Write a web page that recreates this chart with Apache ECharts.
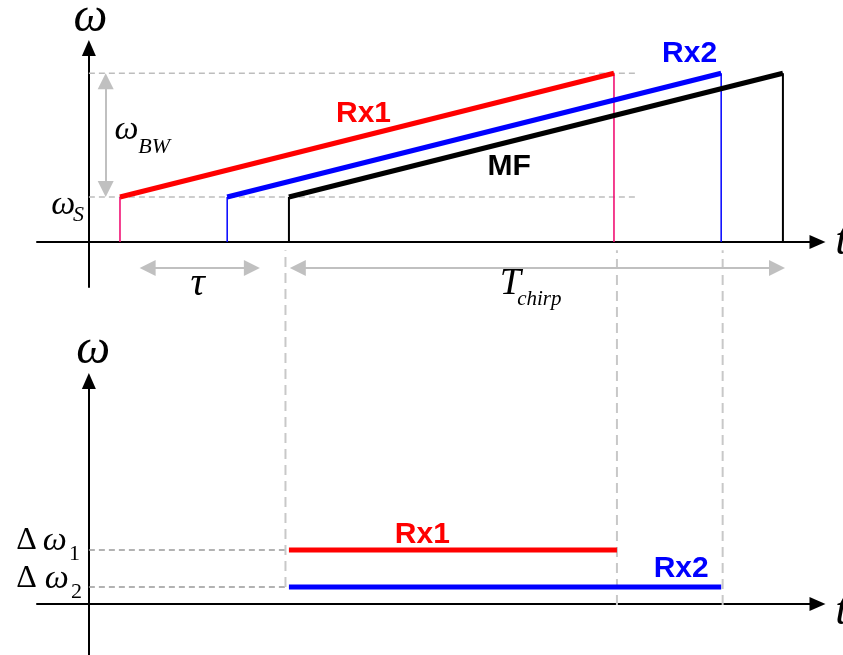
<!DOCTYPE html>
<html><head><meta charset="utf-8">
<script src="https://cdn.jsdelivr.net/npm/echarts@6/dist/echarts.min.js"></script>
<style>html,body{margin:0;padding:0;background:#fff}#c{width:843px;height:655px}</style>
</head><body><div id="c"></div>
<script>
// ---- data (time t and frequency ω in arbitrary units) ----
const chirpNames = ['Rx1', 'Rx2', 'MF'];
const chirpStart = [0.63, 2.8, 4.05];
const chirpDuration = [10.0, 10.0, 10.0];
const omegaS = 2.0;
const omegaTop = 7.5;           // ωS + ωBW
const guideEnd = 11.1;
const deltaNames = ['Rx1', 'Rx2'];
const deltaOmega = [2.35, 0.74];
const deltaEnd = [10.69, 12.8];
const connectorT = [3.98, 10.69, 12.83];
const connectorTop = 15.39;
const connectorBottom = [0.74, -0.05, -0.05];
// dimension arrows (line ends at arrowhead centres)
const bwArrow = [0.34, 7.14, 2.36];     // t, ω from, ω to
const tauArrow = [1.19, 3.30, -1.16];   // t from, t to, ω
const chirpArrow = [4.23, 13.93, -1.16];

// ---- styles ----
const serif = '"Liberation Serif","Times New Roman",serif';
const sans = '"Liberation Sans",Arial,sans-serif';
const C = {Rx1: '#ff0000', Rx2: '#0000ff', MF: '#000000'};
const V = {Rx1: '#f0006a', Rx2: '#0000ff', MF: '#000000'};
const VW = {Rx1: 1.5, Rx2: 1.5, MF: 2};
function m(size, italic, extra) {
  return Object.assign({fontFamily: serif, fontStyle: italic ? 'italic' : 'normal', fontSize: size,
    color: '#000', align: 'center', verticalAlign: 'middle'}, extra || {});
}
function b(color) {
  return {fontFamily: sans, fontWeight: 'bold', fontSize: 30, color: color, align: 'center', verticalAlign: 'middle'};
}
const STY = {
  big: m(48, true), axisT: m(46, true, {align: 'left'}), mid: m(34, true), sub: m(22, true),
  midD: m(34, true), delta: m(32, false), num: m(22, false), tau: m(40, true), T: m(38, true),
  chirpSub: m(21, true), Rx1: b(C.Rx1), Rx2: b(C.Rx2), MF: b(C.MF)
};
const annTop = [
  [0.04, 9.9, 'ω', 'big'], [15.12, 0.0, 't', 'axisT'],
  [0.77, 4.95, 'ω', 'mid'], [1.33, 4.2, 'BW', 'sub'],
  [-0.51, 1.64, 'ω', 'mid'], [-0.2, 1.16, 'S', 'sub'],
  [2.21, -1.91, 'τ', 'tau'], [8.54, -1.91, 'T', 'T'], [9.13, -2.58, 'chirp', 'chirpSub'],
  [5.57, 5.69, 'Rx1', 'Rx1'], [12.17, 8.36, 'Rx2', 'Rx2'], [8.52, 3.33, 'MF', 'MF']
];
const annBottom = [
  [0.1, 11.0, 'ω', 'big'], [15.12, -0.35, 't', 'axisT'],
  [-1.25, 2.74, 'Δ', 'delta'], [-0.68, 2.72, 'ω', 'midD'], [-0.28, 2.13, '1', 'num'],
  [-1.25, 1.1, 'Δ', 'delta'], [-0.64, 1.08, 'ω', 'midD'], [-0.24, 0.48, '2', 'num'],
  [6.76, 3.0, 'Rx1', 'Rx1'], [12.0, 1.52, 'Rx2', 'Rx2']
];

function line(gi, data, color, width, type, z) {
  return {type: 'line', xAxisIndex: gi, yAxisIndex: gi, data: data, symbol: 'none', clip: false,
    silent: true, animation: false, z: z || 2, lineStyle: {color: color, width: width, type: type || 'solid'}};
}
function labels(gi, items) {
  return {type: 'scatter', xAxisIndex: gi, yAxisIndex: gi, symbolSize: 1, clip: false, silent: true,
    animation: false, z: 10, itemStyle: {color: 'rgba(0,0,0,0)', opacity: 1},
    data: items.map(a => ({value: [a[0], a[1]],
      label: Object.assign({show: true, position: [0, 0], formatter: a[2]}, STY[a[3]])}))};
}

const series = [];
series.push(line(0, [[0, omegaTop], [guideEnd, omegaTop]], '#bdbdbd', 1.5, [6, 4], 1));
series.push(line(0, [[0, omegaS], [guideEnd, omegaS]], '#bdbdbd', 1.5, [6, 4], 1));
chirpNames.forEach((n, i) => {
  const s = chirpStart[i], e = s + chirpDuration[i];
  series.push(line(0, [[s, 0], [s, omegaS]], V[n], VW[n]));
  series.push(line(0, [[e, 0], [e, omegaTop]], V[n], VW[n]));
  series.push(line(0, [[s, omegaS], [e, omegaTop]], C[n], 5, 'solid', 3));
});
deltaNames.forEach((n, i) => {
  series.push(line(1, [[0, deltaOmega[i]], [chirpStart[2], deltaOmega[i]]], '#999999', 1.5, [6, 4], 1));
  series.push(line(1, [[chirpStart[2], deltaOmega[i]], [deltaEnd[i], deltaOmega[i]]], C[n], 5, 'solid', 3));
});
connectorT.forEach((t, i) => series.push(line(1, [[t, connectorBottom[i]], [t, connectorTop]], '#c8c8c8', 2, [10, 6], 1)));
series.push({type: 'line', xAxisIndex: 0, yAxisIndex: 0, data: [], animation: false, silent: true,
  markLine: {silent: true, animation: false, symbol: ['triangle', 'triangle'], symbolSize: 16,
    label: {show: false}, lineStyle: {color: '#c0c0c0', width: 2, type: 'solid'},
    data: [
      [{coord: [bwArrow[0], bwArrow[1]]}, {coord: [bwArrow[0], bwArrow[2]]}],
      [{coord: [tauArrow[0], tauArrow[2]]}, {coord: [tauArrow[1], tauArrow[2]]}],
      [{coord: [chirpArrow[0], chirpArrow[2]]}, {coord: [chirpArrow[1], chirpArrow[2]]}]
    ]}});
series.push(labels(0, annTop));
series.push(labels(1, annBottom));

function xAx(gi) {
  return {type: 'value', gridIndex: gi, min: -1.05, max: 14.75, splitLine: {show: false},
    axisTick: {show: false}, axisLabel: {show: false},
    axisLine: {show: true, onZero: true, symbol: ['none', 'triangle'], symbolSize: [14, 16],
      lineStyle: {color: '#000', width: 2}}};
}
function yAx(gi, mn, mx) {
  return {type: 'value', gridIndex: gi, min: mn, max: mx, splitLine: {show: false},
    axisTick: {show: false}, axisLabel: {show: false},
    axisLine: {show: true, onZero: true, symbol: ['none', 'triangle'], symbolSize: [14, 16],
      lineStyle: {color: '#000', width: 2}}};
}

const chart = echarts.init(document.getElementById('c'), null, {renderer: 'canvas'});
chart.setOption({
  backgroundColor: '#fff',
  animation: false,
  grid: [
    {left: 37, right: 25.5, top: 48, height: 239},
    {left: 37, right: 25.5, top: 381, height: 274}
  ],
  xAxis: [xAx(0), xAx(1)],
  yAxis: [yAx(0, -2, 8.62), yAx(1, -2.22, 9.7)],
  series: series
});
</script></body></html>
